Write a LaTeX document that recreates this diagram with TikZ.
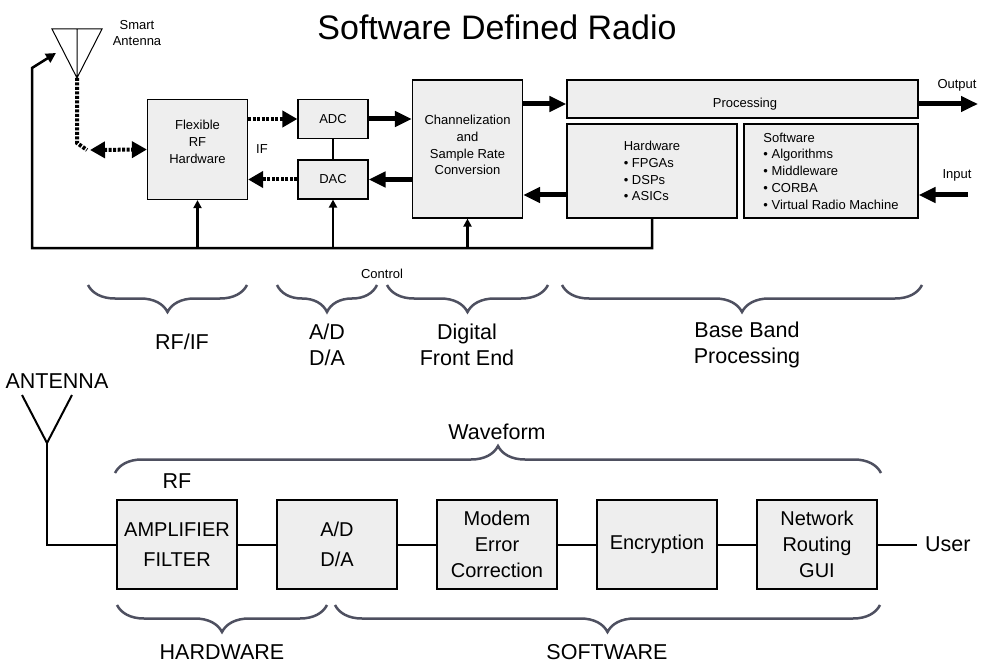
\documentclass[tikz,border=0pt]{standalone}
\usepackage{fontspec}
\setmainfont{Liberation Sans}
\usetikzlibrary{arrows.meta,decorations.pathreplacing}
\definecolor{boxgray}{RGB}{238,238,238}
\definecolor{bracegray}{RGB}{78,80,96}
\tikzset{
  blk/.style={draw,fill=boxgray,line width=1.2pt,inner sep=0pt,align=center,font=\fontsize{13}{16.8}\selectfont},
  bigblk/.style={draw,fill=boxgray,line width=1.2pt,inner sep=0pt,align=center,minimum width=120pt,minimum height=89pt,font=\fontsize{20}{26}\selectfont},
  small/.style={align=center,font=\fontsize{13}{16.8}\selectfont},
  lbl/.style={align=center,font=\fontsize{21.5}{26}\selectfont},
  fat/.style={line width=5pt,-{Triangle[length=17pt,width=15pt]}},
  dots/.style={line width=4pt,dash pattern=on 3pt off 1.5pt},
  ctrl/.style={line width=2.5pt},
  wire/.style={line width=2pt},
  brc/.style={decorate,decoration={brace,amplitude=27pt},draw=bracegray,line width=2.5pt}
}
\begin{document}
\begin{tikzpicture}[x=1pt,y=1pt]
\useasboundingbox (0,0) rectangle (998,-671);

%Title
\node[font=\fontsize{34}{40}\selectfont] (title) at (497,-27) {Software Defined Radio};

%Smart antenna
\coordinate (sa1) at (52,-29);
\coordinate (sa2) at (102,-29);
\coordinate (apex) at (77,-78);
\draw[line width=1pt] (sa1) -- (sa2) -- (apex) -- cycle (77,-29) -- (apex);
\node[small] (satext) at (137,-33) {Smart\\Antenna};

%Top blocks
\node[blk,minimum width=100pt,minimum height=100pt] (flex) at (197.5,-149.5) {};
\node[small] (flextext) at (197.5,-142) {Flexible\\RF\\Hardware};
\node[blk,minimum width=70pt,minimum height=39pt] (adc) at (333,-119) {ADC};
\node[blk,minimum width=70pt,minimum height=39pt] (dac) at (333,-179.5) {DAC};
\node[blk,minimum width=110pt,minimum height=138pt] (chan) at (467.5,-149) {};
\node[small] (chantext) at (467.5,-145) {Channelization\\and\\Sample Rate\\Conversion};
\node[blk,minimum width=351pt,minimum height=38pt] (proc) at (742.5,-99) {};
\node[small] (proctext) at (745,-104) {Processing};
\node[blk,minimum width=170pt,minimum height=94pt,align=left] (hw) at (652,-171) {Hardware\\ • FPGAs\\ • DSPs\\ • ASICs};
\node[blk,minimum width=174pt,minimum height=94pt,align=left] (sw) at (831,-171) {Software\\ • Algorithms\\ • Middleware\\ • CORBA\\ • Virtual Radio Machine};
\node[small] (iftext) at (262,-149) {IF};

%Dotted RF paths
\coordinate (bend) at (87,-150);
\draw[dots] (apex) -- (77,-143) -- (bend);
\draw[dots,{Triangle[length=15pt,width=16pt]}-{Triangle[length=15pt,width=16pt]}] ([xshift=3pt]bend) -- (flex.west);
\draw[dots,-{Triangle[length=15pt,width=16pt]}] (flex.east |- adc) -- (adc.west);
\draw[dots,-{Triangle[length=15pt,width=16pt]}] (dac.west) -- (flex.east |- dac);
\draw[wire] (adc) -- (dac);

%Thick data paths
\coordinate (outp) at (978,-104);
\coordinate (inp) at (968,-195);
\draw[fat] (adc.east) -- (chan.west |- adc);
\draw[fat] (chan.west |- dac) -- (dac.east);
\draw[fat] (chan.east |- outp) -- (proc.west |- outp);
\draw[fat] (hw.west |- inp) -- (chan.east |- inp);
\draw[fat] (proc.east |- outp) -- (outp);
\draw[fat] (inp) -- (sw.east |- inp);
\node[small] (outtext) at (957,-85) {Output};
\node[small] (intext) at (957,-175) {Input};

%Control bus
\coordinate (busL) at (32,-248);
\coordinate (antC) at (32,-68);
\coordinate (antTip) at (56,-53);
\draw[ctrl,-{Triangle[length=10pt,width=10pt]}] (hw.south) |- (busL) -- (antC) -- (antTip);
\foreach \n in {flex,dac,chan}
  \draw[ctrl,-{Triangle[length=8pt,width=8pt]}] (\n.south |- busL) -- (\n.south);
\node[small] (ctrltext) at (382,-274) {Control};

%Braces of the top part
\draw[brc] (247,-285) -- (88,-285);
\draw[brc] (377,-285) -- (277,-285);
\draw[brc] (548,-285) -- (387,-285);
\draw[brc] (922,-285) -- (562,-285);
\node[lbl] (rfif) at (182,-342) {RF/IF};
\node[lbl] (adda) at (327,-345) {A/D\\D/A};
\node[lbl] (dfe) at (467,-345) {Digital\\Front End};
\node[lbl] (bbp) at (747,-345) {Base Band\\Processing};

%Lower chain
\node[lbl] (anttext) at (57,-381) {ANTENNA};
\coordinate (y1) at (22,-395);
\coordinate (y2) at (72,-395);
\coordinate (yc) at (47,-443);
\draw[wire] (y1) -- (yc) -- (y2);
\foreach \x/\n/\t in {177/amp/{AMPLIFIER\\[4pt]FILTER},337/conv/{A/D\\[4pt]D/A},497/modem/{Modem\\Error\\Correction},657/enc/{Encryption},817/net/{Network\\Routing\\GUI}}
  \node[bigblk] (\n) at (\x,-544.5) {\t};
\draw[wire] (yc) |- (amp.west);
\foreach \a/\b in {amp/conv,conv/modem,modem/enc,enc/net}
  \draw[wire] (\a) -- (\b);
\coordinate (usr) at (917,-544.5);
\draw[wire] (net.east) -- (usr);
\node[lbl,anchor=west,inner xsep=8pt] (usertext) at (usr) {User};

%Braces of the lower part
\draw[brc] (115,-473) -- (881,-473);
\draw[brc] (327,-605) -- (117,-605);
\draw[brc] (880,-605) -- (335,-605);
\node[lbl] (wave) at (497,-432) {Waveform};
\node[lbl] (rf) at (177,-481) {RF};
\node[lbl] (hwtext) at (222,-652) {HARDWARE};
\node[lbl] (swtext) at (607,-652) {SOFTWARE};

\end{tikzpicture}
\end{document}
